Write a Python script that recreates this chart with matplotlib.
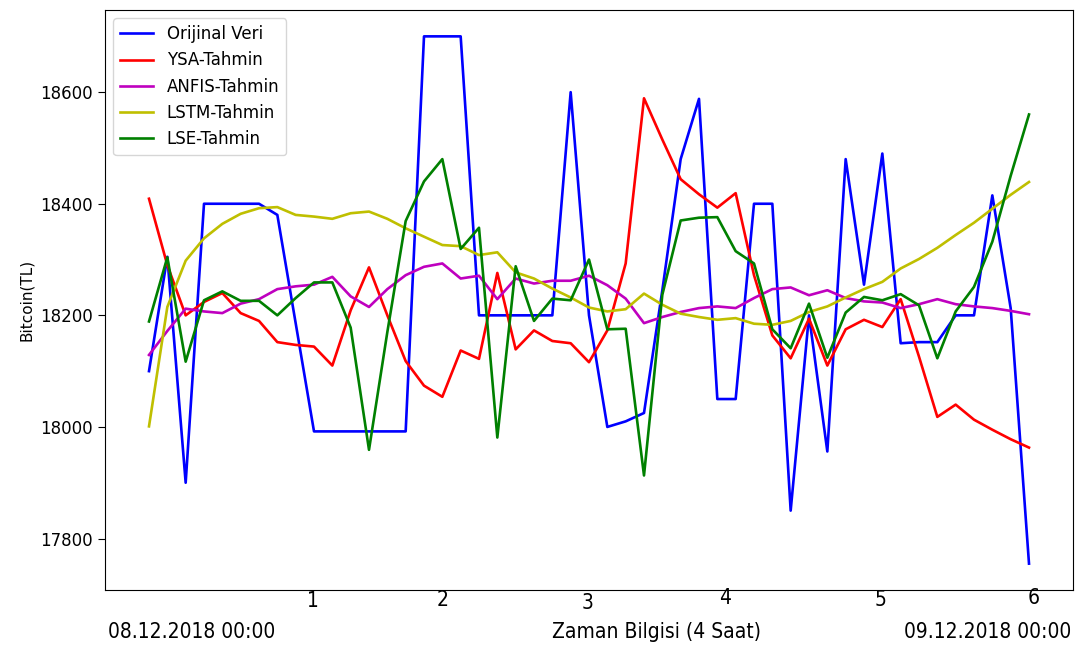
import matplotlib
matplotlib.use("Agg")
import matplotlib.pyplot as plt

# 4 saatlik adimlar, 49 olcum
orijinal = [18100, 18305, 17900, 18400, 18400, 18400, 18400, 18380, 18186, 17992,
            17992, 17992, 17992, 17992, 17992, 18700, 18700, 18700, 18200, 18200,
            18200, 18200, 18200, 18600, 18200, 18000, 18010, 18025, 18245, 18480,
            18588, 18050, 18050, 18400, 18400, 17850, 18200, 17956, 18480, 18255,
            18490, 18150, 18152, 18152, 18200, 18200, 18415, 18213, 17755]

ysa = [18409, 18290, 18200, 18224, 18240, 18204, 18190, 18152, 18147, 18144,
       18110, 18209, 18286, 18200, 18118, 18074, 18054, 18137, 18122, 18276,
       18139, 18173, 18154, 18150, 18116, 18173, 18293, 18589, 18515, 18444,
       18417, 18393, 18419, 18272, 18164, 18123, 18194, 18110, 18175, 18192,
       18179, 18229, 18126, 18018, 18040, 18013, 17995, 17978, 17963]

anfis = [18129, 18172, 18212, 18207, 18204, 18221, 18229, 18247, 18252, 18255,
         18269, 18234, 18215, 18247, 18272, 18287, 18293, 18266, 18271, 18229,
         18266, 18257, 18262, 18262, 18271, 18254, 18230, 18186, 18197, 18206,
         18213, 18216, 18213, 18231, 18247, 18250, 18236, 18245, 18231, 18225,
         18223, 18213, 18220, 18229, 18220, 18216, 18213, 18208, 18202]

lstm = [18001, 18215, 18298, 18338, 18364, 18382, 18392, 18394, 18380, 18377,
        18373, 18383, 18386, 18373, 18356, 18341, 18326, 18324, 18308, 18313,
        18277, 18266, 18248, 18232, 18214, 18207, 18211, 18239, 18219, 18203,
        18197, 18192, 18195, 18185, 18183, 18190, 18206, 18216, 18232, 18247,
        18260, 18284, 18301, 18321, 18344, 18366, 18391, 18416, 18439]

lse = [18189, 18304, 18117, 18227, 18243, 18226, 18226, 18200, 18231, 18259,
       18259, 18178, 17959, 18170, 18369, 18440, 18480, 18319, 18357, 17981,
       18288, 18190, 18230, 18227, 18300, 18175, 18176, 17913, 18237, 18370,
       18375, 18376, 18315, 18293, 18175, 18141, 18221, 18124, 18205, 18233,
       18227, 18238, 18218, 18123, 18207, 18251, 18332, 18450, 18560]

adim = list(range(len(orijinal)))

# alt eksene elle yazilan gun numaralari (x piksel, y piksel)
gun_etiketleri = ["1", "2", "3", "4", "5", "6"]
gun_x = [313, 443, 588, 725, 880, 1034]
gun_y = [601, 600, 603, 598, 600, 598]

W, H = 1084, 647
fig = plt.figure(figsize=(W / 100, H / 100), dpi=100)
ax = fig.add_axes([105 / W, 1 - 590 / H, (1073 - 105) / W, (590 - 10) / H])

ax.plot(adim, orijinal, color='b', lw=1.9, label='Orijinal Veri')
ax.plot(adim, ysa, color='r', lw=1.9, label='YSA-Tahmin')
ax.plot(adim, anfis, color='m', lw=1.9, label='ANFIS-Tahmin')
ax.plot(adim, lstm, color='y', lw=1.9, label='LSTM-Tahmin')
ax.plot(adim, lse, color='g', lw=1.9, label='LSE-Tahmin')

ax.set_yticks([17800, 18000, 18200, 18400, 18600])
ax.tick_params(axis='y', labelsize=12, length=5, pad=4)
ax.set_xticks([])
ax.set_ylabel('Bitcoin(TL)', fontsize=11)
ax.legend(loc='upper left', fontsize=12)

# alt yazilar dar yazi tipiyle
yazi = dict(ha='center', va='center', fontsize=15, family='DejaVu Sans', stretch='condensed')
for t, x, y in zip(gun_etiketleri, gun_x, gun_y):
    fig.text(x / W, 1 - y / H, t, **yazi)

fig.text(192 / W, 1 - 632 / H, '08.12.2018 00:00', **yazi)
fig.text(657 / W, 1 - 632 / H, 'Zaman Bilgisi (4 Saat)', **yazi)
fig.text(988 / W, 1 - 632 / H, '09.12.2018 00:00', **yazi)

fig.savefig('out.png', dpi=100)
